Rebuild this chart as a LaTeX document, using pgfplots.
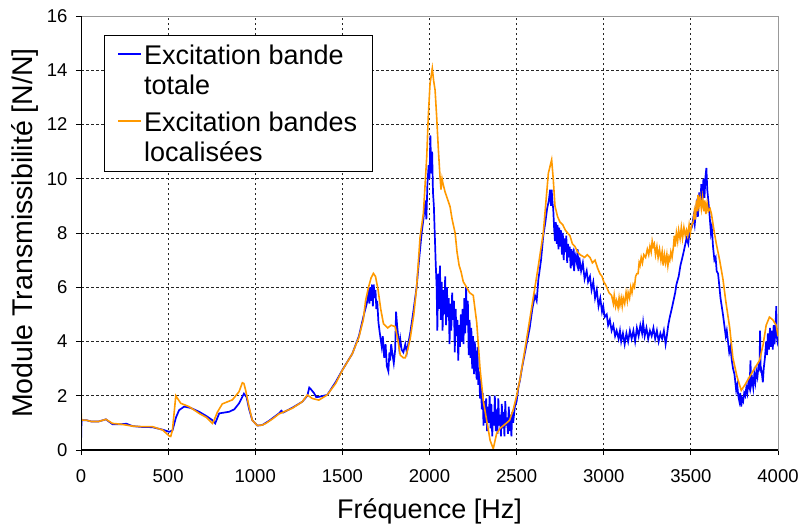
\documentclass[border=0pt]{standalone}
\usepackage{fontspec}
\setmainfont{Liberation Sans}
\usepackage{pgfplots}
\pgfplotsset{compat=1.18}
\definecolor{cblue}{RGB}{0,0,255}
\definecolor{corange}{RGB}{255,153,0}
\begin{document}
\begin{tikzpicture}
\begin{axis}[
  scale only axis,
  width=697pt, height=434pt,
  xmin=0, xmax=4000, ymin=0, ymax=16,
  xtick={0,500,...,4000}, ytick={0,2,...,16},
  xtick pos=left, ytick pos=left,
  tick align=outside, major tick length=5pt,
  tick style={black, line width=0.8pt},
  /pgf/number format/1000 sep={},
  /pgf/number format/assume math mode=true,
  ticklabel style={font=\fontsize{18.5}{18.5}\selectfont},
  xticklabel style={anchor=base, yshift=-27pt},
  yticklabel style={anchor=east, xshift=-5pt},
  grid=major,
  major grid style={black!85, line width=0.8pt, dash pattern=on 2.5pt off 2.5pt},
  axis line style={black!40, line width=1pt},
  xlabel={Fréquence [Hz]},
  ylabel={Module Transmissibilité [N/N]},
  xlabel style={font=\fontsize{27}{27}\selectfont, at={(axis description cs:0.5,0)}, anchor=base, yshift=-68pt},
  ylabel style={font=\fontsize{28.5}{28.5}\selectfont, at={(axis description cs:0,0.5)}, anchor=base, yshift=48pt},
  legend style={at={(rel axis cs:0.033,0.956)}, anchor=north west,
    draw=black, line width=1pt, fill=white,
    font=\fontsize{27}{30}\selectfont,
    inner xsep=13pt, inner ysep=7pt,
    nodes={align=left}, row sep=12pt},
  legend cell align=left,
  legend image code/.code={\draw[#1, line width=1.6pt] (0pt,16pt) -- (23pt,16pt);},
]
\addplot[cblue, line width=1.7pt] coordinates {
(0,0.2) (3,1.1) (30,1.1) (60,1.05) (100,1.05) (143,1.13) (181,0.95) (230,0.95)
(260,0.97) (296,0.88) (350,0.85) (410,0.84) (468,0.75) (506,0.67) (525,0.72)
(545,1.2) (563,1.47) (592,1.6) (630,1.55) (678,1.41) (720,1.25) (754,1.1)
(770,0.98) (793,1.35) (850,1.41) (880,1.5) (907,1.72) (935,2.08) (950,1.95)
(965,1.5) (983,1.1) (1012,0.9) (1040,0.92) (1080,1.08) (1136,1.35) (1150,1.45)
(1160,1.38) (1213,1.56) (1270,1.78) (1299,2.0) (1310,2.3) (1318,2.25) (1337,2.1)
(1350,1.95) (1365,1.96) (1413,2.03) (1461,2.5) (1500,2.95) (1557,3.55) (1595,4.2)
(1620,4.9) (1640,5.4) (1650,5.8) (1655,5.4) (1660,6.0) (1665,5.5) (1670,6.1)
(1675,5.3) (1680,6.1) (1685,5.6) (1690,5.9) (1695,5.2) (1700,5.5) (1707,4.7)
(1715,4.3) (1726,3.8) (1732,4.2) (1740,3.4) (1748,3.9) (1755,3.1) (1764,2.9)
(1770,3.6) (1774,3.3) (1780,3.9) (1788,3.5) (1795,3.2) (1803,3.7) (1808,5.1)
(1814,4.6) (1820,4.2) (1826,3.8) (1832,4.1) (1840,3.7) (1850,3.6) (1861,3.9)
(1870,3.6) (1880,4.0) (1889,4.3) (1905,5.0) (1926,6.0) (1940,7.0) (1955,8.0)
(1965,8.5) (1975,9.2) (1982,8.5) (1988,9.8) (1995,10.5) (2000,10.0) (2005,11.6)
(2010,10.2) (2015,11.0) (2020,9.5) (2025,9.0) (2030,8.0) (2035,7.0) (2041,6.0)
(2045,4.4) (2050,6.5) (2055,5.2) (2060,6.8) (2065,4.8) (2070,6.2) (2075,4.4)
(2080,5.9) (2085,5.0) (2090,6.4) (2095,4.6) (2100,6.0) (2105,4.9) (2110,5.6)
(2115,3.9) (2120,5.4) (2125,4.4) (2130,5.8) (2135,4.8) (2140,5.5) (2145,3.6)
(2150,5.2) (2155,4.2) (2160,4.8) (2165,3.3) (2170,4.6) (2175,3.8) (2180,5.0)
(2185,4.0) (2190,5.2) (2195,3.9) (2200,5.6) (2205,4.3) (2210,6.0) (2215,4.6)
(2220,5.5) (2225,3.5) (2230,4.8) (2235,3.4) (2240,4.5) (2245,3.0) (2250,4.2)
(2255,2.8) (2260,4.0) (2265,3.1) (2271,2.6) (2275,3.8) (2280,2.4) (2285,2.9)
(2290,1.9) (2295,2.6) (2300,1.5) (2305,2.1) (2310,0.9) (2315,1.8) (2320,1.0)
(2325,1.9) (2330,0.7) (2335,1.6) (2340,1.0) (2345,2.0) (2350,0.8) (2355,1.7)
(2360,0.5) (2365,1.4) (2370,0.9) (2375,2.0) (2380,0.7) (2385,1.5) (2390,0.6)
(2395,1.9) (2400,0.9) (2405,1.3) (2410,0.5) (2415,1.7) (2420,0.8) (2425,1.4)
(2430,0.5) (2435,1.8) (2440,0.9) (2445,1.2) (2450,0.6) (2455,1.6) (2460,0.7)
(2465,1.3) (2470,0.5) (2475,1.4) (2480,1.0) (2490,1.6) (2500,1.8) (2510,2.3)
(2520,2.6) (2530,3.0) (2545,3.5) (2560,4.0) (2575,4.5) (2590,5.2) (2605,5.7)
(2615,5.5) (2625,6.3) (2640,7.0) (2653,7.9) (2665,8.4) (2675,8.9) (2685,9.2)
(2692,9.6) (2697,9.0) (2701,9.6) (2706,9.1) (2710,8.9) (2715,8.2) (2720,7.7)
(2725,8.4) (2730,7.6) (2735,8.3) (2740,7.4) (2745,8.2) (2749,7.5) (2755,8.1)
(2760,7.2) (2765,8.0) (2770,7.0) (2775,7.8) (2780,7.3) (2785,7.9) (2790,6.9)
(2795,7.6) (2800,7.1) (2805,7.5) (2810,6.7) (2815,7.4) (2820,7.0) (2825,7.2)
(2830,6.6) (2835,7.2) (2845,6.9) (2850,7.4) (2855,6.6) (2860,7.1) (2870,6.6)
(2880,6.9) (2890,6.3) (2902,6.6) (2910,6.2) (2921,6.4) (2930,5.9) (2940,6.2)
(2950,5.6) (2960,5.9) (2970,5.3) (2980,5.6) (2990,5.1) (2997,5.3) (3005,4.9)
(3017,5.0) (3025,4.6) (3035,4.8) (3045,4.4) (3055,4.6) (3065,4.2) (3074,4.4)
(3085,4.1) (3093,4.4) (3100,4.0) (3110,4.3) (3120,3.9) (3130,4.3) (3140,4.0)
(3150,4.4) (3160,4.1) (3170,4.4) (3180,4.0) (3190,4.5) (3200,4.2) (3210,4.6)
(3220,4.3) (3226,4.7) (3235,4.2) (3245,4.5) (3255,4.1) (3265,4.4) (3275,4.2)
(3285,4.5) (3295,4.1) (3305,4.4) (3315,4.0) (3325,4.3) (3335,4.1) (3345,4.4)
(3355,3.9) (3362,4.2) (3370,4.6) (3379,4.9) (3390,5.2) (3400,5.5) (3410,5.8)
(3417,6.1) (3430,6.4) (3440,6.8) (3455,7.2) (3465,7.5) (3475,7.8) (3485,7.6)
(3493,8.1) (3505,8.2) (3515,8.6) (3522,8.3) (3532,9.0) (3540,8.6) (3548,9.5)
(3553,9.0) (3560,9.8) (3565,9.1) (3572,10.0) (3578,9.3) (3584,10.1) (3589,10.4)
(3594,9.6) (3600,9.2) (3608,8.6) (3615,8.0) (3620,8.2) (3627,7.5) (3635,7.0)
(3642,7.1) (3648,6.6) (3656,6.5) (3664,6.0) (3670,5.6) (3677,5.3) (3684,5.0)
(3692,4.6) (3700,4.2) (3706,4.4) (3713,4.0) (3720,3.6) (3727,3.8) (3735,3.3)
(3742,3.0) (3750,2.8) (3755,2.5) (3760,2.2) (3766,2.4) (3772,2.0) (3778,1.8)
(3783,2.1) (3789,1.6) (3794,1.9) (3800,1.8) (3806,2.1) (3812,2.0) (3818,2.3)
(3824,2.1) (3830,2.5) (3837,2.3) (3842,3.3) (3846,2.4) (3852,2.6) (3858,2.3)
(3864,2.8) (3870,2.5) (3876,2.9) (3882,2.7) (3888,3.1) (3894,3.0) (3897,4.4)
(3900,3.1) (3906,2.9) (3913,2.5) (3918,3.0) (3925,3.4) (3932,4.0) (3937,3.5)
(3942,4.3) (3948,3.7) (3954,4.5) (3958,3.8) (3964,4.4) (3970,3.7) (3975,4.6)
(3980,3.9) (3985,4.4) (3990,5.3) (3993,4.2) (3997,4.0) (4000,4.1)
};
\addlegendentry{Excitation bande\\totale}
\addplot[corange, line width=1.6pt] coordinates {
(0,1.5) (3,1.1) (30,1.1) (60,1.05) (100,1.05) (143,1.13) (181,0.98) (230,0.95)
(296,0.88) (350,0.86) (410,0.86) (468,0.74) (506,0.52) (515,0.5) (525,0.74)
(544,2.0) (573,1.72) (620,1.6) (678,1.35) (720,1.2) (754,0.98) (764,1.1)
(783,1.4) (811,1.7) (869,1.85) (907,2.15) (926,2.48) (935,2.45) (945,2.2)
(964,1.6) (983,1.1) (1012,0.9) (1040,0.92) (1060,0.98) (1100,1.15) (1136,1.33)
(1213,1.54) (1270,1.78) (1299,2.03) (1327,1.9) (1365,1.84) (1413,2.03) (1461,2.45)
(1500,2.94) (1557,3.55) (1595,4.16) (1620,4.8) (1633,5.5) (1650,6.0) (1665,6.35)
(1678,6.51) (1690,6.4) (1705,5.9) (1720,5.2) (1736,4.65) (1760,4.5) (1780,4.6)
(1803,4.55) (1820,4.0) (1832,3.5) (1850,3.4) (1861,3.4) (1875,3.7) (1889,4.1)
(1910,5.0) (1926,6.0) (1946,7.86) (1965,8.73) (1984,10.8) (1993,12.3) (2003,13.5)
(2016,14.07) (2024,13.6) (2032,13.27) (2041,12.3) (2051,11.06) (2060,10.1)
(2066,9.6) (2072,10.0) (2078,9.8) (2090,9.5) (2106,9.2) (2118,8.97) (2130,8.5)
(2147,8.0) (2158,7.3) (2170,6.8) (2180,6.6) (2194,6.2) (2213,6.0) (2230,5.8)
(2251,5.7) (2271,4.7) (2290,3.0) (2309,1.8) (2328,1.1) (2348,0.35) (2366,0.05)
(2385,0.6) (2405,0.8) (2424,0.9) (2443,1.0) (2460,1.1) (2481,1.5) (2500,2.0)
(2519,2.6) (2555,4.0) (2605,6.0) (2620,6.6) (2653,8.0) (2682,10.2) (2701,10.7)
(2710,10.0) (2720,9.0) (2735,8.6) (2749,8.4) (2765,8.3) (2780,8.1) (2806,7.9)
(2820,7.6) (2835,7.5) (2850,7.3) (2864,7.2) (2890,7.1) (2905,7.2) (2921,7.1)
(2935,6.9) (2950,7.0) (2965,6.7) (2978,6.5) (2990,6.4) (3000,6.2) (3010,6.1)
(3017,6.0) (3030,5.8) (3045,5.7) (3055,5.4) (3060,5.7) (3068,5.3) (3074,5.5)
(3082,5.25) (3088,5.6) (3093,5.35) (3100,5.6) (3106,5.3) (3112,5.6) (3120,5.4)
(3128,5.8) (3135,5.5) (3140,5.8) (3148,5.6) (3155,6.0) (3162,5.8) (3169,6.1)
(3176,6.0) (3183,6.4) (3190,6.5) (3197,6.5) (3203,6.9) (3208,6.8) (3215,7.1)
(3222,6.9) (3230,7.2) (3240,7.1) (3250,7.4) (3258,7.2) (3265,7.5) (3272,7.3)
(3278,7.7) (3284,7.5) (3290,7.6) (3297,7.2) (3305,7.5) (3312,7.1) (3320,7.4)
(3328,7.0) (3335,7.3) (3341,6.8) (3348,7.2) (3355,6.9) (3362,7.2) (3368,6.8)
(3374,7.1) (3379,7.0) (3385,7.3) (3392,7.1) (3400,7.5) (3405,7.9) (3410,7.5)
(3417,8.0) (3424,7.7) (3430,8.1) (3438,7.8) (3445,8.2) (3452,7.8) (3460,8.2)
(3468,7.9) (3475,8.1) (3482,7.9) (3490,8.3) (3497,8.0) (3505,8.3) (3513,8.4)
(3520,8.8) (3526,8.5) (3532,9.2) (3537,8.8) (3541,9.4) (3547,9.0) (3553,9.3)
(3560,8.9) (3567,9.3) (3574,8.8) (3580,9.2) (3586,8.7) (3593,9.1) (3600,8.8)
(3610,8.9) (3618,8.7) (3635,8.0) (3646,7.6) (3665,7.0) (3684,6.3) (3700,5.5)
(3723,4.5) (3741,3.4) (3765,2.7) (3789,2.2) (3810,2.4) (3837,2.7) (3865,3.0)
(3894,3.3) (3915,3.9) (3932,4.6) (3951,4.9) (3970,4.8) (3990,4.6) (4000,4.2)
};
\addlegendentry{Excitation bandes\\localisées}
\draw[black, line width=1.2pt] (rel axis cs:0,1) -- (rel axis cs:0,0) -- (rel axis cs:1,0);
\end{axis}
\pgfresetboundingbox
\path (-81pt,-73pt) rectangle (718pt,450pt);
\end{tikzpicture}
\end{document}
